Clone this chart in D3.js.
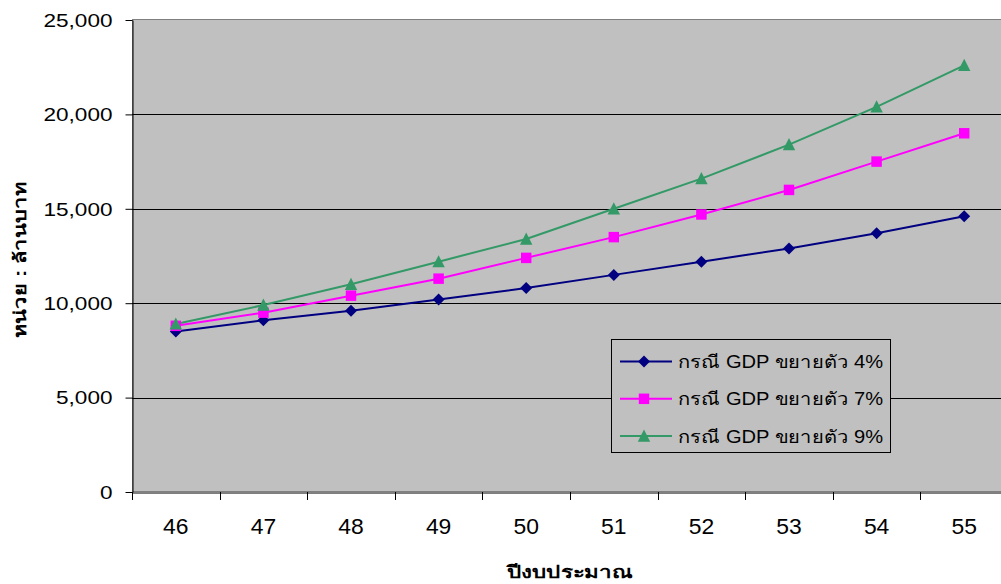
<!DOCTYPE html>
<html><head><meta charset="utf-8">
<script src="https://cdn.jsdelivr.net/npm/d3@7"></script>
<style>
body{margin:0;background:#fff;}
svg{display:block;font-family:"Liberation Sans",Arial,sans-serif;}
</style></head>
<body>
<svg id="c" width="1001" height="584"></svg>
<script>
const categories = ["46","47","48","49","50","51","52","53","54","55"];
const seriesNames = ["กรณี GDP ขยายตัว 4%","กรณี GDP ขยายตัว 7%","กรณี GDP ขยายตัว 9%"];
const gdp4 = [8500, 9100, 9600, 10200, 10800, 11500, 12200, 12900, 13700, 14600];
const gdp7 = [8800, 9500, 10400, 11300, 12400, 13500, 14700, 16000, 17500, 19000];
const gdp9 = [8900, 9900, 11000, 12200, 13400, 15000, 16600, 18400, 20400, 22600];
const yTicks = [0, 5000, 10000, 15000, 20000, 25000];
const yTitle = "หน่วย : ล้านบาท";
const xTitle = "ปีงบประมาณ";

const diamond = {draw(ctx, size){ const r = Math.sqrt(size / 2);
  ctx.moveTo(0, -r); ctx.lineTo(r, 0); ctx.lineTo(0, r); ctx.lineTo(-r, 0); ctx.closePath(); }};
const tri = {draw(ctx, size){ const r = Math.sqrt(size) / 2;
  ctx.moveTo(0, -r * 1.1); ctx.lineTo(r * 1.05, r * 0.95); ctx.lineTo(-r * 1.05, r * 0.95); ctx.closePath(); }};

const series = [
  {name: seriesNames[0], values: gdp4, color: "#000080", symbol: diamond, size: 72},
  {name: seriesNames[1], values: gdp7, color: "#ff00ff", symbol: d3.symbolSquare, size: 110},
  {name: seriesNames[2], values: gdp9, color: "#339966", symbol: tri, size: 140}
];

const svg = d3.select("#c");
const L = 132, R = 1008, T = 20, B = 492;

const x = d3.scaleBand().domain(categories).range([L, R]);
const y = d3.scaleLinear().domain([0, 25000]).range([B, T]);

function stretch(sel, factor) {
  sel.each(function(){ const w = this.getComputedTextLength();
    d3.select(this).attr("textLength", w * factor).attr("lengthAdjust", "spacingAndGlyphs"); });
}

svg.append("rect").attr("x", L + 0.5).attr("y", T - 0.5).attr("width", R - L).attr("height", B - T)
  .attr("fill", "#c0c0c0").attr("stroke", "#808080").attr("stroke-width", 1);

// gridlines
svg.append("g").selectAll("line").data(yTicks.filter(d => d > 0 && d < 25000)).join("line")
  .attr("x1", L).attr("x2", R).attr("y1", d => Math.round(y(d)) + 0.5).attr("y2", d => Math.round(y(d)) + 0.5)
  .attr("stroke", "#000").attr("stroke-width", 1);

// y axis
const yAxis = d3.axisLeft(y).tickValues(yTicks).tickFormat(d3.format(",")).tickSize(7).tickPadding(13).tickSizeOuter(0);
const gy = svg.append("g").attr("transform", `translate(${L + 0.5},0)`).call(yAxis);
gy.select(".domain").attr("stroke", "#000");
gy.selectAll(".tick line").attr("stroke", "#000");
gy.selectAll("text").attr("font-size", 18.5).attr("fill", "#000").attr("dy", "0.34em")
  .attr("font-family", "Liberation Sans, Arial, sans-serif");
stretch(gy.selectAll("text"), 1.22);

// x axis
const xAxis = d3.axisBottom(x).tickSize(0).tickPadding(26).tickSizeOuter(0);
const gx = svg.append("g").attr("transform", `translate(0,${B + 0.5})`).call(xAxis);
gx.select(".domain").attr("stroke", "#000");
gx.selectAll("text").attr("font-size", 22).attr("fill", "#000")
  .attr("font-family", "Liberation Sans, Arial, sans-serif");
stretch(gx.selectAll("text"), 1.04);
// boundary ticks between categories
const edges = categories.map(c => x(c)).concat([R]);
svg.append("g").selectAll("line").data(edges).join("line")
  .attr("x1", d => Math.round(d) + 0.5).attr("x2", d => Math.round(d) + 0.5)
  .attr("y1", B).attr("y2", B + 8).attr("stroke", "#000");

// lines
const line = d3.line().x((d, i) => x(categories[i]) + x.bandwidth() / 2).y(d => y(d));
series.forEach(s => {
  svg.append("path").datum(s.values).attr("d", line)
    .attr("fill", "none").attr("stroke", s.color).attr("stroke-width", 2);
});
series.forEach(s => {
  svg.append("g").selectAll("path").data(s.values).join("path")
    .attr("d", d3.symbol().type(s.symbol).size(s.size))
    .attr("transform", (d, i) => `translate(${x(categories[i]) + x.bandwidth() / 2},${y(d)})`)
    .attr("fill", s.color);
});

// legend
const lg = svg.append("g");
lg.append("rect").attr("x", 611.5).attr("y", 339.5).attr("width", 279).attr("height", 113)
  .attr("fill", "#c0c0c0").attr("stroke", "#000").attr("stroke-width", 1);
series.forEach((s, i) => {
  const yy = 361.5 + i * 37.3;
  lg.append("line").attr("x1", 620).attr("x2", 672).attr("y1", yy).attr("y2", yy)
    .attr("stroke", s.color).attr("stroke-width", 2);
  lg.append("path").attr("d", d3.symbol().type(s.symbol).size(s.size))
    .attr("transform", `translate(644,${yy})`).attr("fill", s.color);
  lg.append("text").attr("x", 678).attr("y", yy).attr("dy", "0.36em")
    .attr("font-size", 18).attr("fill", "#000").text(s.name)
    .attr("textLength", 205).attr("lengthAdjust", "spacingAndGlyphs");
});

// titles
svg.append("text").attr("transform", "translate(26,260) rotate(-90)")
  .attr("text-anchor", "middle").attr("font-size", 17).attr("font-weight", "bold").text(yTitle)
  .attr("textLength", 156).attr("lengthAdjust", "spacingAndGlyphs");
svg.append("text").attr("x", 570).attr("y", 578).attr("text-anchor", "middle")
  .attr("font-size", 17).attr("font-weight", "bold").text(xTitle)
  .attr("textLength", 126).attr("lengthAdjust", "spacingAndGlyphs");
</script>
</body></html>
